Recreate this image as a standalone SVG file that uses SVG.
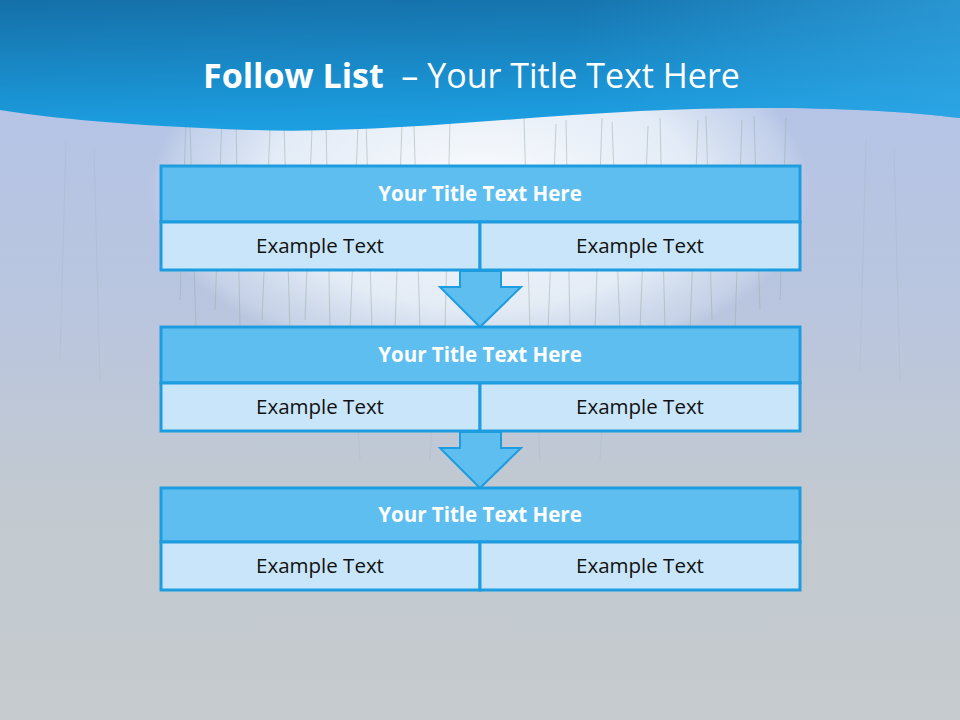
<svg xmlns="http://www.w3.org/2000/svg" width="960" height="720" viewBox="0 0 960 720">
<defs>
<linearGradient id="bg" x1="0" y1="0" x2="0" y2="1">
<stop offset="0" stop-color="#B3C3EA"/>
<stop offset="0.45" stop-color="#BAC6DE"/>
<stop offset="0.7" stop-color="#C2C9D0"/>
<stop offset="1" stop-color="#C5CBCE"/>
</linearGradient>
<radialGradient id="glow" cx="480" cy="190" r="330" gradientUnits="userSpaceOnUse" gradientTransform="translate(480 190) scale(1 0.55) translate(-480 -190)">
<stop offset="0" stop-color="#FFFFFF" stop-opacity="0.95"/>
<stop offset="0.65" stop-color="#EEF5FB" stop-opacity="0.8"/>
<stop offset="0.93" stop-color="#DDE8F6" stop-opacity="0.35"/>
<stop offset="1" stop-color="#DDE8F6" stop-opacity="0"/>
</radialGradient>
<linearGradient id="banner" x1="0" y1="0" x2="0.15" y2="1">
<stop offset="0" stop-color="#1570A8"/>
<stop offset="1" stop-color="#1C9FE2"/>
</linearGradient>
<linearGradient id="bannerR" x1="0" y1="0" x2="1" y2="0">
<stop offset="0.6" stop-color="#35A8E6" stop-opacity="0"/>
<stop offset="1" stop-color="#35A8E6" stop-opacity="0.6"/>
</linearGradient>
<style>
.ttl{fill:#5EBEF0;stroke:#1E9CE0;stroke-width:3}
.sub{fill:#C8E5F9;stroke:#1E9CE0;stroke-width:3}
.arrow{fill:#5EBEF0;stroke:#1E9CE0;stroke-width:2;stroke-linejoin:miter}
.ht{font-family:"Open Sans","Liberation Sans",sans-serif;font-weight:bold;font-size:20.5px;fill:#FFFFFF;text-anchor:middle}
.et{font-family:"Open Sans","Liberation Sans",sans-serif;font-size:20.5px;fill:#111111;text-anchor:middle}
.grass{stroke:#9AAEA6;stroke-width:1;opacity:0.5;fill:none}
.grass2{stroke:#9AAEA6;stroke-width:1;opacity:0.2;fill:none}
</style>
</defs>
<rect x="0" y="0" width="960" height="720" fill="url(#bg)"/>
<rect x="0" y="100" width="960" height="400" fill="url(#glow)"/>
<g class="grass">
<path d="M180 300 L186 120"/><path d="M196 330 L190 125"/><path d="M215 310 L222 118"/><path d="M240 330 L236 122"/>
<path d="M262 320 L270 130"/><path d="M290 330 L284 125"/><path d="M305 320 L312 128"/><path d="M330 330 L326 120"/>
<path d="M350 330 L358 125"/><path d="M372 330 L366 118"/><path d="M395 330 L402 122"/><path d="M420 330 L414 126"/>
<path d="M445 330 L450 120"/><path d="M530 330 L524 118"/><path d="M548 330 L556 124"/><path d="M570 330 L566 120"/>
<path d="M595 330 L602 118"/><path d="M620 330 L612 122"/><path d="M640 330 L648 126"/><path d="M665 330 L660 118"/>
<path d="M690 330 L698 120"/><path d="M712 320 L706 116"/><path d="M735 330 L742 120"/><path d="M760 310 L754 116"/>
<path d="M780 300 L786 118"/>
</g>
<g class="grass2">
<path d="M60 360 L66 140"/><path d="M100 380 L94 150"/><path d="M860 370 L866 140"/><path d="M900 380 L894 150"/>
<path d="M430 460 L434 380"/><path d="M540 460 L536 380"/><path d="M600 460 L604 390"/><path d="M360 460 L356 390"/>
</g>
<path d="M0 0 H960 V118 C880 108 760 105 640 111 C500 118 380 134 250 130 C130 126 50 118 0 110 Z" fill="url(#banner)"/>
<path d="M0 0 H960 V118 C880 108 760 105 640 111 C500 118 380 134 250 130 C130 126 50 118 0 110 Z" fill="url(#bannerR)"/>
<text x="203" y="88" font-family="Open Sans,Liberation Sans,sans-serif" font-size="34" fill="#FFFFFF"><tspan font-weight="bold">Follow List</tspan><tspan xml:space="preserve">  – Your Title Text Here</tspan></text>
<g id="connectors">
<path class="arrow" d="M460 271 V287 H440 L480 327 L521 287 H501 V271 Z"/>
<path class="arrow" d="M460 432 V448 H440 L480 488 L521 448 H501 V432 Z"/>
</g>
<g id="node1">
<rect class="ttl" x="161" y="166" width="639" height="56"/>
<rect class="sub" x="161" y="222" width="319" height="48"/>
<rect class="sub" x="480" y="222" width="320" height="48"/>
<text class="ht" x="480" y="201">Your Title Text Here</text>
<text class="et" x="320" y="253">Example Text</text>
<text class="et" x="640" y="253">Example Text</text>
</g>
<g id="node2">
<rect class="ttl" x="161" y="327" width="639" height="56"/>
<rect class="sub" x="161" y="383" width="319" height="48"/>
<rect class="sub" x="480" y="383" width="320" height="48"/>
<text class="ht" x="480" y="362">Your Title Text Here</text>
<text class="et" x="320" y="414">Example Text</text>
<text class="et" x="640" y="414">Example Text</text>
</g>
<g id="node3">
<rect class="ttl" x="161" y="488" width="639" height="54"/>
<rect class="sub" x="161" y="542" width="319" height="48"/>
<rect class="sub" x="480" y="542" width="320" height="48"/>
<text class="ht" x="480" y="522">Your Title Text Here</text>
<text class="et" x="320" y="573">Example Text</text>
<text class="et" x="640" y="573">Example Text</text>
</g>
</svg>
